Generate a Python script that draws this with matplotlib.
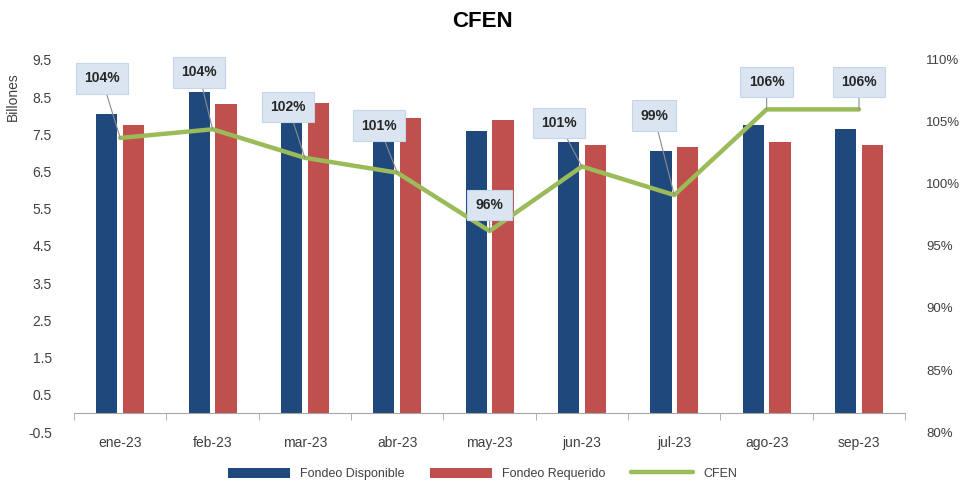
import matplotlib
matplotlib.use('Agg')
import matplotlib.pyplot as plt
import numpy as np

plt.rcParams['font.family'] = ['Liberation Sans', 'DejaVu Sans']

meses = ['ene-23', 'feb-23', 'mar-23', 'abr-23', 'may-23',
         'jun-23', 'jul-23', 'ago-23', 'sep-23']
disponible = [8.05, 8.64, 7.90, 7.55, 7.60, 7.30, 7.05, 7.74, 7.64]
requerido = [7.75, 8.32, 8.35, 7.94, 7.89, 7.20, 7.15, 7.30, 7.21]
cfen = [103.7, 104.4, 102.1, 100.9, 96.2, 101.4, 99.1, 106.0, 106.0]
# label box offsets (category units, pct units) relative to the point
lab_dx = [-0.2, -0.15, -0.18, -0.2, 0.0, -0.25, -0.22, 0.0, 0.0]
lab_dy = [4.8, 4.6, 4.1, 3.8, 2.1, 3.5, 6.4, 2.2, 2.2]

blue = '#1F497D'
red = '#C0504D'
green = '#9BBB59'
txt = '#404040'

fig = plt.figure(figsize=(9.65, 4.86), dpi=100)
ax = fig.add_axes([0.0767, 0.111, 0.8613, 0.766])
x = np.arange(len(meses))
w = 0.23
ax.bar(x - 0.145, disponible, w, color=blue, label='Fondeo Disponible')
ax.bar(x + 0.145, requerido, w, color=red, label='Fondeo Requerido')

ax.set_xlim(-0.5, len(meses) - 0.5)
ax.set_ylim(-0.5, 9.5)
ax.set_yticks(np.arange(-0.5, 9.6, 1.0))
ax.set_yticklabels(['{:.1f}'.format(v) for v in np.arange(-0.5, 9.6, 1.0)])
for s in ['top', 'right', 'left']:
    ax.spines[s].set_visible(False)
ax.spines['bottom'].set_position(('data', 0))
ax.spines['bottom'].set_color('#a6a6a6')
ax.set_xticks(x)
ax.set_xticklabels(meses)
ax.set_xticks(np.arange(-0.5, len(meses), 1.0), minor=True)
ax.tick_params(axis='x', which='major', length=0, pad=16, labelsize=10, colors=txt)
ax.tick_params(axis='x', which='minor', length=5, color='#a6a6a6')
ax.tick_params(axis='y', length=0, pad=16, labelsize=10, colors=txt)
ax.set_ylabel('Billones', fontsize=10, color=txt)
ax.yaxis.set_label_coords(-0.065, 0.9)

ax2 = ax.twinx()
ax2.set_ylim(80, 110)
ax2.set_yticks(np.arange(80, 111, 5))
ax2.set_yticklabels(['{}%'.format(v) for v in range(80, 111, 5)])
for s in ax2.spines.values():
    s.set_visible(False)
ax2.tick_params(axis='y', length=0, pad=15, labelsize=9.5, colors=txt)
ax2.plot(x, cfen, color=green, lw=3.2, label='CFEN', solid_capstyle='round')

for i, v in enumerate(cfen):
    ax2.annotate('{:.0f}%'.format(v), xy=(x[i], v),
                 xytext=(x[i] + lab_dx[i], v + lab_dy[i]),
                 ha='center', va='center', fontsize=10, fontweight='bold',
                 color='#262626',
                 bbox=dict(boxstyle='square,pad=0.6', fc='#dbe5f1', ec='#c6d6ea', lw=0.8),
                 arrowprops=dict(arrowstyle='-', color='#8c8c8c', lw=0.8,
                                 shrinkA=0, shrinkB=0))

fig.text(0.5, 0.955, 'CFEN', ha='center', va='center', fontsize=16, fontweight='bold')

h1, l1 = ax.get_legend_handles_labels()
h2, l2 = ax2.get_legend_handles_labels()
fig.legend(h1 + h2, l1 + l2, loc='center', bbox_to_anchor=(0.5, 0.025), ncol=3,
           frameon=False, fontsize=9, handlelength=5, handleheight=0.9,
           columnspacing=2.0, labelcolor=txt)

fig.savefig('out.png', dpi=100)
